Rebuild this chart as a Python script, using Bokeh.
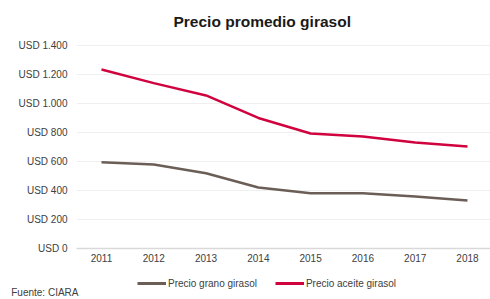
from bokeh.plotting import figure
from bokeh.models import Range1d, FixedTicker, Legend, LegendItem
from bokeh.layouts import column
from bokeh.embed import file_html
from bokeh.resources import INLINE

years = [2011, 2012, 2013, 2014, 2015, 2016, 2017, 2018]
grano = [595, 579, 519, 421, 381, 381, 359, 331]
aceite = [1234, 1140, 1055, 900, 793, 772, 731, 703]
y_ticks = [0, 200, 400, 600, 800, 1000, 1200, 1400]
y_labels = ["USD 0", "USD 200", "USD 400", "USD 600", "USD 800", "USD 1.000", "USD 1.200", "USD 1.400"]
title_text = "Precio promedio girasol"
source_text = "Fuente: CIARA"
names = ["Precio grano girasol", "Precio aceite girasol"]
colors = ["#6b5e57", "#d0033f"]

FONT = "Liberation Sans"
TXT = "#404040"

p = figure(width=490, height=270, output_backend="svg", toolbar_location=None,
           x_range=Range1d(2010.522, 2018.44), y_range=Range1d(0, 1434),
           min_border_left=76, min_border_right=0, min_border_top=40, min_border_bottom=22)
p.outline_line_color = None
p.xgrid.grid_line_color = None
p.ygrid.grid_line_color = "#efefef"
p.ygrid.grid_line_width = 1

p.title.text = title_text
p.title.align = "left"
p.title.offset = 97
p.title.text_font = FONT
p.title.text_font_size = "15.5px"
p.title.text_font_style = "bold"
p.title.text_color = "#1a1a1a"
p.title.standoff = 21

p.xaxis.ticker = FixedTicker(ticks=years)
p.xaxis.major_tick_line_color = None
p.xaxis.minor_tick_line_color = None
p.xaxis.major_tick_out = 0
p.xaxis.minor_tick_out = 0
p.xaxis.axis_line_color = "#d9d9d9"
p.xaxis.axis_line_width = 1.5
p.xaxis.major_label_text_font = FONT
p.xaxis.major_label_text_font_size = "10px"
p.xaxis.major_label_text_color = TXT
p.xaxis.major_label_standoff = 5

p.yaxis.ticker = FixedTicker(ticks=y_ticks)
p.yaxis.major_label_overrides = {t: l for t, l in zip(y_ticks, y_labels)}
p.yaxis.major_tick_line_color = None
p.yaxis.minor_tick_line_color = None
p.yaxis.major_tick_out = 0
p.yaxis.minor_tick_out = 0
p.yaxis.axis_line_color = None
p.yaxis.major_label_text_font = FONT
p.yaxis.major_label_text_font_size = "10px"
p.yaxis.major_label_text_color = TXT
p.yaxis.major_label_standoff = 9

p.line(years, grano, line_color=colors[0], line_width=2.5)
p.line(years, aceite, line_color=colors[1], line_width=2.5)

# bottom strip: legend + source
b = figure(width=490, height=29, output_backend="svg", toolbar_location=None,
           x_range=Range1d(76, 490), y_range=Range1d(0, 29), x_axis_type=None,
           min_border_left=76, min_border_right=0, min_border_top=0, min_border_bottom=0)
b.outline_line_color = None
b.xgrid.grid_line_color = None
b.ygrid.grid_line_color = None
# source line rendered as the strip's single left tick label
b.yaxis.ticker = FixedTicker(ticks=[7])
b.yaxis.major_label_overrides = {7: source_text}
b.yaxis.major_tick_line_color = None
b.yaxis.minor_tick_line_color = None
b.yaxis.major_tick_out = 0
b.yaxis.minor_tick_out = 0
b.yaxis.axis_line_color = None
b.yaxis.major_label_standoff = -2
b.yaxis.major_label_text_font = FONT
b.yaxis.major_label_text_font_size = "10px"
b.yaxis.major_label_text_color = TXT

k1 = b.line(years, grano, line_color=colors[0], line_width=3, visible=False)
k2 = b.line(years, aceite, line_color=colors[1], line_width=3, visible=False)

legend = Legend(items=[LegendItem(label=names[0], renderers=[k1]),
                       LegendItem(label=names[1], renderers=[k2])],
                orientation="horizontal", location=(61, 10),
                glyph_width=29, glyph_height=12, label_height=12, label_standoff=2,
                spacing=18, padding=0, margin=0, inactive_fill_alpha=0,
                border_line_color=None, background_fill_alpha=0,
                label_text_font=FONT, label_text_font_size="10px", label_text_color=TXT)
b.add_layout(legend, "center")

layout = column(p, b, spacing=0)
open("out.html", "w").write(file_html(layout, INLINE))
